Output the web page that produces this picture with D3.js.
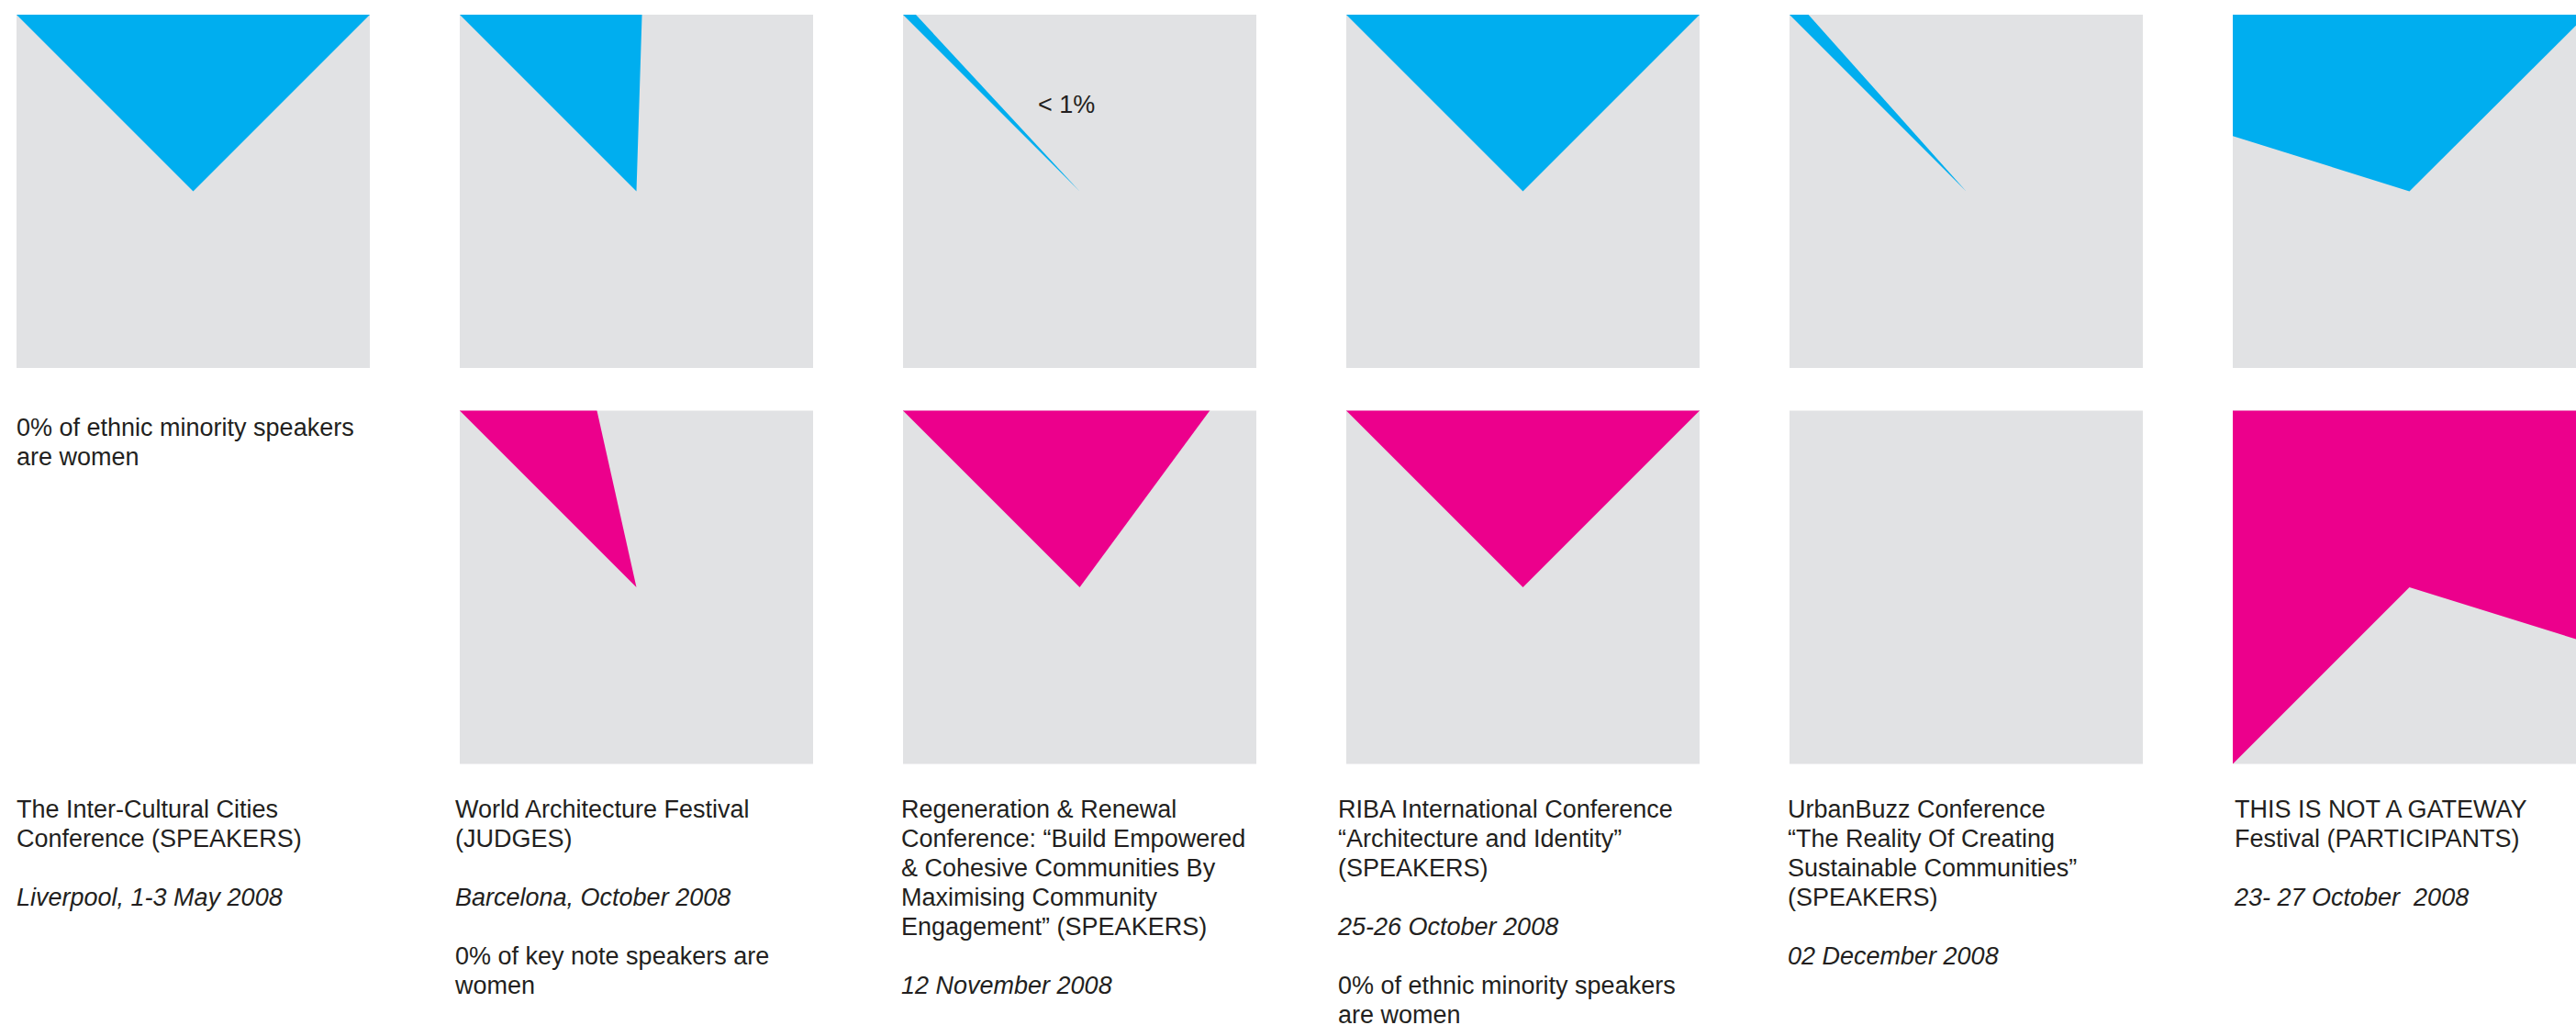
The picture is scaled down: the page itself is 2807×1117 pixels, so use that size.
<!DOCTYPE html>
<html>
<head>
<meta charset="utf-8">
<script src="https://cdn.jsdelivr.net/npm/d3@7"></script>
<style>
  body { margin: 0; background: #fff; }
  text { font-family: "Liberation Sans", Arial, Helvetica, sans-serif; fill: #231f20; }
</style>
</head>
<body>
<div id="chart"></div>
<script>
// event titles, one entry per column (each an array of lines)
var titles = [
  ["The Inter-Cultural Cities", "Conference (SPEAKERS)"],
  ["World Architecture Festival", "(JUDGES)"],
  ["Regeneration & Renewal", "Conference: \u201cBuild Empowered", "& Cohesive Communities By", "Maximising Community", "Engagement\u201d (SPEAKERS)"],
  ["RIBA International Conference", "\u201cArchitecture and Identity\u201d", "(SPEAKERS)"],
  ["UrbanBuzz Conference", "\u201cThe Reality Of Creating", "Sustainable Communities\u201d", "(SPEAKERS)"],
  ["THIS IS NOT A GATEWAY", "Festival (PARTICIPANTS)"]
];
var dates = [
  "Liverpool, 1-3 May 2008",
  "Barcelona, October 2008",
  "12 November 2008",
  "25-26 October 2008",
  "02 December 2008",
  "23- 27 October  2008"
];
var notes = [
  [],
  ["0% of key note speakers are", "women"],
  [],
  ["0% of ethnic minority speakers", "are women"],
  [],
  []
];

// top row (blue) and bottom row (pink) shares, in percent; null = no square
var blueShare = [25, 13, 0.6, 25, 0.9, 32.7];
var pinkShare = [null, 9, 22.6, 25, 0, 67.3];
// angle (degrees, clockwise from 12 o'clock) where each wedge starts
var blueStart = [-45, -45, -45, -45, -45, -72.6];
var pinkStart = [null, -45, -45, -45, -45, -135];

var W = 2807, H = 1117;
var size = 385;
var rowY = [16, 447.5];
var labelX = [18, 496, 982, 1458, 1948, 2435];
var lineH = 32;

var svg = d3.select("#chart")
  .append("svg")
  .attr("width", W)
  .attr("height", H);

var x = d3.scaleLinear()
  .domain([0, 5])
  .range([18, 18 + 5 * 483]);

var angle = d3.scaleLinear()
  .domain([0, 100])
  .range([0, 2 * Math.PI]);

var arc = d3.arc()
  .innerRadius(0)
  .outerRadius(size);

var defs = svg.append("defs");

function square(i, row, share, start, color) {
  if (share === null) return;
  var id = "clip" + row + "_" + i;
  defs.append("clipPath").attr("id", id)
    .append("rect")
    .attr("width", size)
    .attr("height", size);

  var g = svg.append("g")
    .attr("transform", "translate(" + x(i) + "," + rowY[row] + ")");

  g.append("rect")
    .attr("width", size)
    .attr("height", size)
    .attr("fill", "#e1e2e4");

  if (share > 0) {
    var a0 = start * Math.PI / 180;
    g.append("g")
      .attr("clip-path", "url(#" + id + ")")
      .append("path")
      .attr("transform", "translate(" + size / 2 + "," + size / 2 + ")")
      .attr("d", arc({startAngle: a0, endAngle: a0 + angle(share)}))
      .attr("fill", color);
  }
}

blueShare.forEach(function(v, i) {
  square(i, 0, v, blueStart[i], "#00aeef");
  square(i, 1, pinkShare[i], pinkStart[i], "#ec008c");
});

// annotation on the thin sliver
svg.append("text")
  .attr("x", x(2) + 147)
  .attr("y", 123)
  .style("font-size", "27px")
  .text("< 1%");

// note in place of the missing pink square
svg.append("text")
  .attr("x", labelX[0])
  .attr("y", 475)
  .style("font-size", "27px")
  .selectAll("tspan")
  .data(["0% of ethnic minority speakers", "are women"])
  .enter().append("tspan")
  .attr("x", labelX[0])
  .attr("dy", function(d, k) { return k ? lineH : 0; })
  .text(function(d) { return d; });

// labels under each column
titles.forEach(function(lines, i) {
  var g = svg.append("g").style("font-size", "27px");
  var y0 = 891;
  lines.forEach(function(l, k) {
    g.append("text")
      .attr("x", labelX[i])
      .attr("y", y0 + k * lineH)
      .text(l);
  });
  var yd = y0 + (lines.length + 1) * lineH;
  g.append("text")
    .attr("x", labelX[i])
    .attr("y", yd)
    .attr("xml:space", "preserve")
    .style("white-space", "pre")
    .style("font-style", "italic")
    .text(dates[i]);
  notes[i].forEach(function(l, k) {
    g.append("text")
      .attr("x", labelX[i])
      .attr("y", yd + (k + 2) * lineH)
      .text(l);
  });
});
</script>
</body>
</html>
